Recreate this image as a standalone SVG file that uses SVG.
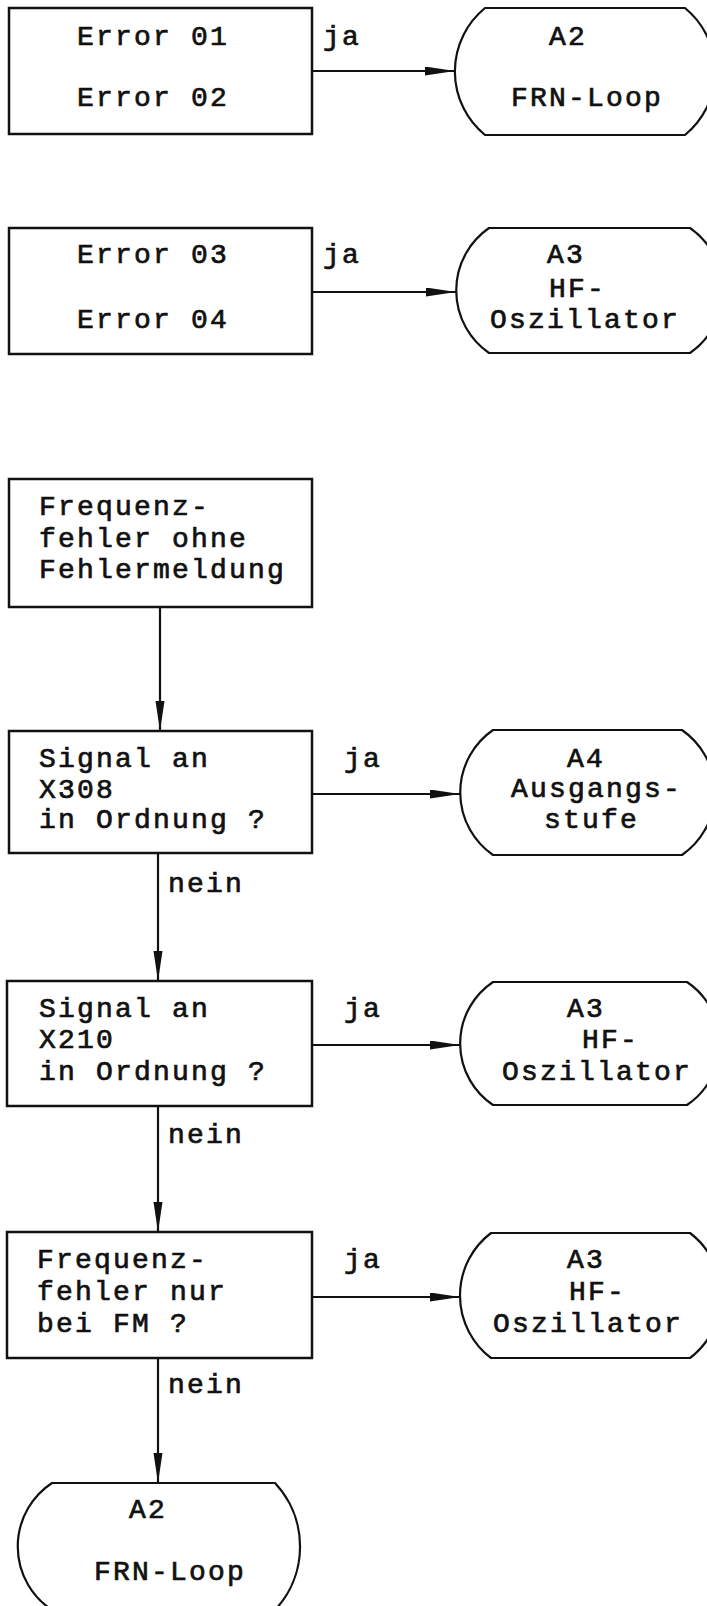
<svg xmlns="http://www.w3.org/2000/svg" width="707" height="1606" viewBox="0 0 707 1606">
<style>
.bg{fill:#fff}
.box{fill:none;stroke:#111;stroke-width:2.5}
.term{fill:none;stroke:#111;stroke-width:2.2}
.con{fill:none;stroke:#111;stroke-width:2.2}
text{font-family:"Liberation Mono","DejaVu Sans Mono",monospace;font-size:28px;letter-spacing:2.2px;fill:#111;stroke:#111;stroke-width:0.7px}
</style>
<defs>
<marker id="ah" markerUnits="userSpaceOnUse" markerWidth="30" markerHeight="10" refX="30" refY="4.5" orient="auto">
<path d="M0,0 L30,4.5 L0,9 Z" fill="#111"/>
</marker>
</defs>
<rect class="bg" x="0" y="0" width="707" height="1606"/>

<g id="connectors">
<path class="con" d="M312,71 H455" marker-end="url(#ah)"/>
<path class="con" d="M312,292 H456" marker-end="url(#ah)"/>
<path class="con" d="M160,607 V731" marker-end="url(#ah)"/>
<path class="con" d="M312,794 H460" marker-end="url(#ah)"/>
<path class="con" d="M158,853 V981" marker-end="url(#ah)"/>
<path class="con" d="M312,1045 H460" marker-end="url(#ah)"/>
<path class="con" d="M158,1106 V1232" marker-end="url(#ah)"/>
<path class="con" d="M312,1297 H460" marker-end="url(#ah)"/>
<path class="con" d="M158,1358 V1483" marker-end="url(#ah)"/>
<text x="323" y="45">ja</text>
<text x="323" y="263">ja</text>
<text x="344" y="767">ja</text>
<text x="344" y="1017">ja</text>
<text x="344" y="1268">ja</text>
<text x="168" y="892">nein</text>
<text x="168" y="1143">nein</text>
<text x="168" y="1393">nein</text>
</g>

<g id="box1">
<rect class="box" x="9" y="8" width="303" height="126"/>
<text x="77" y="45">Error 01</text>
<text x="77" y="106">Error 02</text>
</g>
<g id="term1">
<path class="term" d="M485,8 H685 A82 82 0 0 1 685,135 H485 A82 82 0 0 1 485,8 Z"/>
<text x="549" y="45">A2</text>
<text x="511" y="106">FRN-Loop</text>
</g>

<g id="box2">
<rect class="box" x="9" y="228" width="303" height="126"/>
<text x="77" y="263">Error 03</text>
<text x="77" y="328">Error 04</text>
</g>
<g id="term2">
<path class="term" d="M489,228 H690 A76 76 0 0 1 690,353 H489 A76 76 0 0 1 489,228 Z"/>
<text x="547" y="263">A3</text>
<text x="549" y="297">HF-</text>
<text x="490" y="328">Oszillator</text>
</g>

<g id="box3">
<rect class="box" x="9" y="479" width="303" height="128"/>
<text x="39" y="515">Frequenz-</text>
<text x="39" y="547">fehler ohne</text>
<text x="39" y="578">Fehlermeldung</text>
</g>

<g id="box4">
<rect class="box" x="9" y="731" width="303" height="122"/>
<text x="39" y="767">Signal an</text>
<text x="39" y="798">X308</text>
<text x="39" y="828">in Ordnung ?</text>
</g>
<g id="term4">
<path class="term" d="M493,730 H682 A76 76 0 0 1 682,855 H493 A76 76 0 0 1 493,730 Z"/>
<text x="567" y="767">A4</text>
<text x="511" y="797">Ausgangs-</text>
<text x="544" y="828">stufe</text>
</g>

<g id="box5">
<rect class="box" x="7" y="981" width="305" height="125"/>
<text x="39" y="1017">Signal an</text>
<text x="39" y="1048">X210</text>
<text x="39" y="1080">in Ordnung ?</text>
</g>
<g id="term5">
<path class="term" d="M493,982 H687 A74 74 0 0 1 687,1105 H493 A74 74 0 0 1 493,982 Z"/>
<text x="567" y="1017">A3</text>
<text x="582" y="1048">HF-</text>
<text x="502" y="1080">Oszillator</text>
</g>

<g id="box6">
<rect class="box" x="7" y="1232" width="305" height="126"/>
<text x="37" y="1268">Frequenz-</text>
<text x="37" y="1300">fehler nur</text>
<text x="37" y="1332">bei FM ?</text>
</g>
<g id="term6">
<path class="term" d="M491,1233 H690 A78.5 78.5 0 0 1 690,1358 H491 A78.5 78.5 0 0 1 491,1233 Z"/>
<text x="567" y="1268">A3</text>
<text x="569" y="1300">HF-</text>
<text x="493" y="1332">Oszillator</text>
</g>

<g id="term7">
<path class="term" d="M52,1483 H275 A93 93 0 0 1 275,1610 H52 A76 76 0 0 1 52,1483 Z"/>
<text x="129" y="1518">A2</text>
<text x="94" y="1580">FRN-Loop</text>
</g>
</svg>
